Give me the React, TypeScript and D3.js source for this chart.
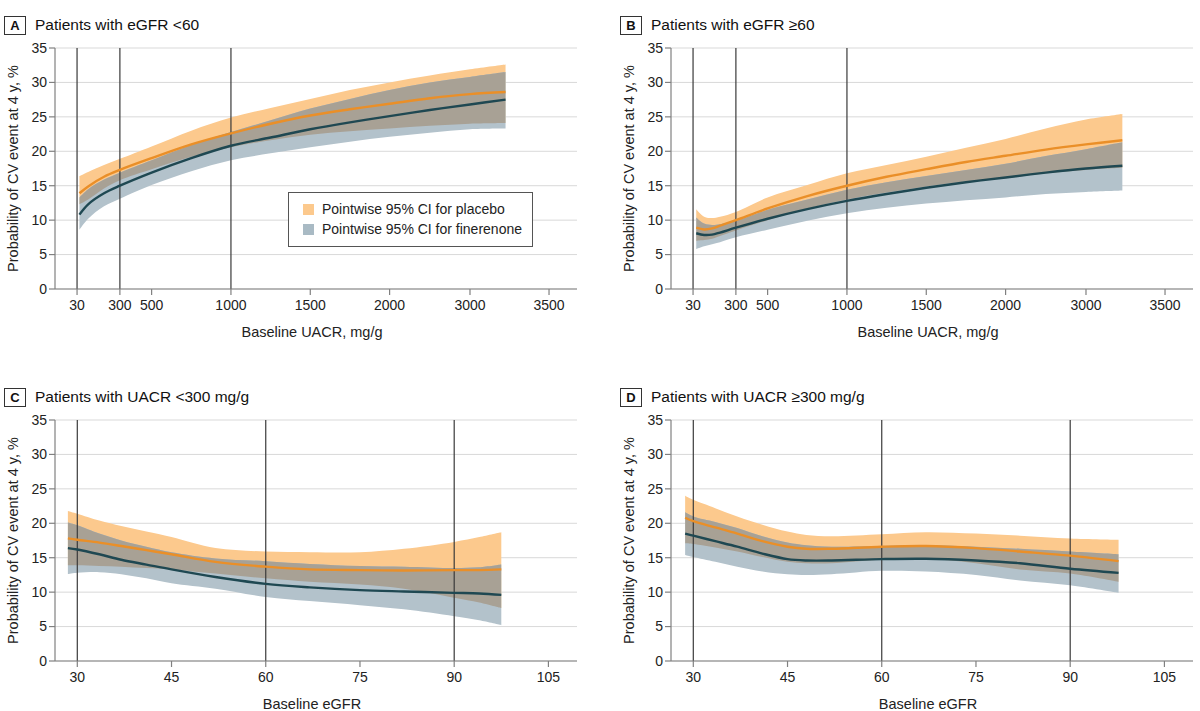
import React from "react";
import * as d3 from "d3";

// ---------- shared ticks ----------
const yTicks = [0, 5, 10, 15, 20, 25, 30, 35];
const uacrTicks = [30, 300, 500, 1000, 1500, 2000, 3000, 3500];
const egfrTicks = [30, 45, 60, 75, 90, 105];
const uacrRefLines = [30, 300, 1000];
const egfrRefLines = [30, 60, 90];

// ---------- Panel A: eGFR <60, by UACR ----------
const aX = [45, 100, 200, 300, 500, 750, 1000, 1250, 1500, 1750, 2000, 2500, 3000, 3225];
const aPlacebo = [13.9, 14.9, 16.3, 17.3, 19.0, 21.0, 22.6, 24.0, 25.2, 26.1, 26.9, 27.7, 28.3, 28.6];
const aPlaceboHi = [16.4, 17.0, 18.0, 18.9, 20.7, 23.0, 24.9, 26.3, 27.6, 28.9, 30.0, 31.0, 31.9, 32.6];
const aPlaceboLo = [12.3, 13.0, 14.6, 15.8, 17.4, 19.2, 20.6, 21.6, 22.4, 22.9, 23.3, 23.7, 24.0, 24.1];
const aFin = [10.8, 12.3, 13.9, 15.0, 16.9, 19.0, 20.8, 22.0, 23.2, 24.2, 25.1, 26.0, 26.8, 27.5];
const aFinHi = [13.3, 14.5, 15.9, 16.9, 18.7, 20.9, 22.8, 24.5, 26.2, 27.6, 28.9, 30.0, 30.8, 31.5];
const aFinLo = [8.6, 10.2, 12.0, 13.1, 15.1, 17.1, 18.7, 19.7, 20.6, 21.4, 22.1, 22.7, 23.2, 23.3];

// ---------- Panel B: eGFR >=60, by UACR ----------
const bX = [50, 100, 150, 200, 300, 500, 750, 1000, 1250, 1500, 1750, 2000, 2500, 3000, 3230];
const bPlacebo = [8.9, 8.65, 8.8, 9.2, 10.0, 11.7, 13.5, 15.0, 16.3, 17.4, 18.45, 19.35, 20.25, 21.0, 21.6];
const bPlaceboHi = [11.6, 10.5, 10.3, 10.5, 11.2, 13.3, 15.1, 16.8, 18.0, 19.2, 20.5, 21.8, 23.3, 24.6, 25.4];
const bPlaceboLo = [7.0, 7.1, 7.3, 7.7, 8.5, 10.0, 11.7, 13.0, 14.0, 14.9, 15.6, 16.1, 16.8, 17.3, 17.6];
const bFin = [8.1, 7.85, 7.9, 8.2, 8.9, 10.2, 11.6, 12.8, 13.8, 14.7, 15.5, 16.2, 16.9, 17.5, 17.9];
const bFinHi = [10.4, 9.5, 9.3, 9.4, 9.9, 11.5, 13.0, 14.4, 15.5, 16.4, 17.3, 18.2, 19.3, 20.3, 21.3];
const bFinLo = [5.8, 6.2, 6.5, 6.8, 7.5, 8.6, 9.9, 11.0, 11.8, 12.4, 12.9, 13.3, 13.8, 14.1, 14.3];

// ---------- Panel C: UACR <300, by eGFR ----------
const cX = [28.5, 30, 33.5, 37, 41, 45, 52, 60, 67, 75, 82, 90, 94, 97.5];
const cPlacebo = [17.8, 17.6, 17.2, 16.7, 16.1, 15.5, 14.4, 13.7, 13.3, 13.2, 13.15, 13.2, 13.2, 13.3];
const cPlaceboHi = [21.8, 21.4, 20.4, 19.6, 18.8, 18.0, 16.4, 15.9, 15.8, 15.8, 16.3, 17.3, 18.0, 18.7];
const cPlaceboLo = [13.9, 13.9, 13.8, 13.7, 13.5, 13.3, 12.7, 12.0, 11.5, 11.1, 10.5, 9.2, 8.5, 7.7];
const cFin = [16.4, 16.2, 15.5, 14.7, 14.0, 13.3, 12.2, 11.2, 10.7, 10.3, 10.1, 9.9, 9.8, 9.6];
const cFinHi = [20.1, 19.7, 18.5, 17.5, 16.6, 15.8, 14.9, 14.5, 14.1, 13.8, 13.7, 13.5, 13.6, 14.0];
const cFinLo = [12.6, 12.8, 12.9, 12.6, 12.0, 11.3, 10.5, 9.3, 8.7, 8.1, 7.5, 6.5, 5.9, 5.2];

// ---------- Panel D: UACR >=300, by eGFR ----------
const dX = [28.7, 30, 33.5, 37, 41, 45, 48, 52, 60, 67, 75, 82, 90, 97.7];
const dPlacebo = [20.8, 20.3, 19.4, 18.5, 17.4, 16.6, 16.3, 16.3, 16.6, 16.7, 16.4, 15.9, 15.3, 14.5];
const dPlaceboHi = [24.0, 23.4, 22.2, 21.0, 19.8, 18.8, 18.3, 18.1, 18.4, 18.7, 18.5, 18.2, 17.8, 17.6];
const dPlaceboLo = [17.1, 17.0, 16.5, 15.9, 15.1, 14.4, 14.2, 14.2, 14.7, 14.8, 14.2, 13.3, 12.7, 11.5];
const dFin = [18.5, 18.2, 17.4, 16.6, 15.6, 14.8, 14.6, 14.6, 14.8, 14.85, 14.6, 14.2, 13.4, 12.8];
const dFinHi = [21.6, 21.0, 20.2, 19.3, 18.1, 17.2, 16.8, 16.6, 16.7, 16.8, 16.6, 16.3, 15.9, 15.5];
const dFinLo = [15.4, 15.1, 14.4, 13.7, 13.0, 12.6, 12.5, 12.6, 13.1, 13.0, 12.5, 11.7, 11.0, 9.9];

const legendLabels = ["Pointwise 95% CI for placebo", "Pointwise 95% CI for finerenone"];

// ---------- style ----------
const FONT = "'Liberation Sans', Arial, sans-serif";
const C_ORANGE_BAND = "#fcc98d";
const C_GREY_BAND = "#b3c2cb";
const C_OVERLAP = "#a8a195";
const C_ORANGE_LINE = "#ea8f28";
const C_DARK_LINE = "#1f4852";
const C_GRID = "#d9d9d9";
const C_AXIS = "#808080";
const C_REF = "#3a3a3a";

const PLOT_W = 522;
const PLOT_H = 241;

type PanelProps = {
  id: string;
  letter: string;
  title: string;
  xLabel: string;
  left: number;
  top: number;
  xScale: d3.ScaleLinear<number, number>;
  xTicks: number[];
  refLines: number[];
  xs: number[];
  placebo: number[];
  placeboHi: number[];
  placeboLo: number[];
  fin: number[];
  finHi: number[];
  finLo: number[];
  legend?: boolean;
};

function Panel(p: PanelProps) {
  const plotLeft = p.left + 55;
  const plotTop = p.top + 40;
  const x = p.xScale.copy().range(p.xScale.range().map((r) => r + plotLeft));
  const y = d3.scaleLinear().domain([0, 35]).range([plotTop + PLOT_H, plotTop]);
  const bottom = y(0);
  const right = plotLeft + PLOT_W;

  const idx = p.xs.map((_, i) => i);
  const curve = d3.curveCatmullRom.alpha(0.5);
  const areaP = d3
    .area<number>()
    .x((i) => x(p.xs[i]))
    .y0((i) => y(p.placeboLo[i]))
    .y1((i) => y(p.placeboHi[i]))
    .curve(curve)(idx) as string;
  const areaF = d3
    .area<number>()
    .x((i) => x(p.xs[i]))
    .y0((i) => y(p.finLo[i]))
    .y1((i) => y(p.finHi[i]))
    .curve(curve)(idx) as string;
  const lineP = d3
    .line<number>()
    .x((i) => x(p.xs[i]))
    .y((i) => y(p.placebo[i]))
    .curve(curve)(idx) as string;
  const lineF = d3
    .line<number>()
    .x((i) => x(p.xs[i]))
    .y((i) => y(p.fin[i]))
    .curve(curve)(idx) as string;

  const titleBase = p.top + 22;

  return (
    <g fontFamily={FONT}>
      <rect x={p.left + 4.5} y={p.top + 8.5} width={21} height={18} fill="#fff" stroke="#333" strokeWidth={1} />
      <text x={p.left + 15} y={titleBase} textAnchor="middle" fontSize={13} fontWeight="bold" fill="#111">
        {p.letter}
      </text>
      <text x={p.left + 35} y={titleBase} fontSize={15.5} fill="#111">
        {p.title}
      </text>

      {yTicks.map((t) => (
        <line key={"g" + t} x1={plotLeft} x2={right} y1={y(t)} y2={y(t)} stroke={C_GRID} strokeWidth={1} />
      ))}

      <defs>
        <clipPath id={"clip-" + p.id}>
          <path d={areaP} />
        </clipPath>
      </defs>
      <path d={areaP} fill={C_ORANGE_BAND} />
      <path d={areaF} fill={C_GREY_BAND} />
      <path d={areaF} fill={C_OVERLAP} clipPath={`url(#clip-${p.id})`} />

      {p.refLines.map((v) => (
        <line key={"r" + v} x1={x(v)} x2={x(v)} y1={y(35)} y2={bottom} stroke={C_REF} strokeWidth={1.2} />
      ))}

      <path d={lineP} fill="none" stroke={C_ORANGE_LINE} strokeWidth={2.4} />
      <path d={lineF} fill="none" stroke={C_DARK_LINE} strokeWidth={2.4} />

      <line x1={plotLeft} x2={plotLeft} y1={y(35)} y2={bottom} stroke={C_AXIS} strokeWidth={1.2} />
      <line x1={plotLeft} x2={right} y1={bottom} y2={bottom} stroke={C_AXIS} strokeWidth={1.2} />
      {yTicks.map((t) => (
        <g key={"yt" + t}>
          <line x1={plotLeft - 6} x2={plotLeft} y1={y(t)} y2={y(t)} stroke={C_AXIS} strokeWidth={1.2} />
          <text x={plotLeft - 8} y={y(t)} dy="0.35em" textAnchor="end" fontSize={14} fill="#222">
            {t}
          </text>
        </g>
      ))}
      {p.xTicks.map((t) => (
        <g key={"xt" + t}>
          <line x1={x(t)} x2={x(t)} y1={bottom} y2={bottom + 6} stroke={C_AXIS} strokeWidth={1.2} />
          <text x={x(t)} y={bottom + 21} textAnchor="middle" fontSize={14} fill="#222">
            {t}
          </text>
        </g>
      ))}
      <text x={plotLeft + PLOT_W / 2 - 4} y={bottom + 48} textAnchor="middle" fontSize={14.5} fill="#222">
        {p.xLabel}
      </text>
      <text
        transform={`translate(${p.left + 18},${(y(35) + bottom) / 2}) rotate(-90)`}
        textAnchor="middle"
        fontSize={14.5}
        fill="#222"
      >
        Probability of CV event at 4 y, %
      </text>

      {p.legend && (
        <g>
          <rect x={p.left + 288.5} y={plotTop + 144.5} width={244} height={54} fill="#fff" stroke="#555" strokeWidth={1} />
          {legendLabels.map((lab, i) => (
            <g key={lab}>
              <rect
                x={p.left + 303}
                y={plotTop + 156 + i * 20}
                width={11}
                height={11}
                fill={i === 0 ? C_ORANGE_BAND : "#a9bac4"}
              />
              <text x={p.left + 322} y={plotTop + 161.5 + i * 20} dy="0.35em" fontSize={14} fill="#222">
                {lab}
              </text>
            </g>
          ))}
        </g>
      )}
    </g>
  );
}

export default function App() {
  // UACR axis: linear up to 2000, compressed segment beyond (as in the source figure)
  const uacrScale = d3
    .scaleLinear()
    .domain([-109, 2000, 3000, 3677])
    .range([0, 0.641 * PLOT_W, 0.795 * PLOT_W, PLOT_W]);
  const egfrScale = d3.scaleLinear().domain([26.45, 109.55]).range([0, PLOT_W]);

  return (
    <svg width={1200} height={711} style={{ position: "absolute", left: 0, top: 0, background: "#fff" }}>
      <rect width={1200} height={711} fill="#fff" />
      <Panel
        id="A"
        letter="A"
        title="Patients with eGFR <60"
        xLabel="Baseline UACR, mg/g"
        left={0}
        top={8}
        xScale={uacrScale}
        xTicks={uacrTicks}
        refLines={uacrRefLines}
        xs={aX}
        placebo={aPlacebo}
        placeboHi={aPlaceboHi}
        placeboLo={aPlaceboLo}
        fin={aFin}
        finHi={aFinHi}
        finLo={aFinLo}
        legend
      />
      <Panel
        id="B"
        letter="B"
        title="Patients with eGFR ≥60"
        xLabel="Baseline UACR, mg/g"
        left={616}
        top={8}
        xScale={uacrScale}
        xTicks={uacrTicks}
        refLines={uacrRefLines}
        xs={bX}
        placebo={bPlacebo}
        placeboHi={bPlaceboHi}
        placeboLo={bPlaceboLo}
        fin={bFin}
        finHi={bFinHi}
        finLo={bFinLo}
      />
      <Panel
        id="C"
        letter="C"
        title="Patients with UACR <300 mg/g"
        xLabel="Baseline eGFR"
        left={0}
        top={380}
        xScale={egfrScale}
        xTicks={egfrTicks}
        refLines={egfrRefLines}
        xs={cX}
        placebo={cPlacebo}
        placeboHi={cPlaceboHi}
        placeboLo={cPlaceboLo}
        fin={cFin}
        finHi={cFinHi}
        finLo={cFinLo}
      />
      <Panel
        id="D"
        letter="D"
        title="Patients with UACR ≥300 mg/g"
        xLabel="Baseline eGFR"
        left={616}
        top={380}
        xScale={egfrScale}
        xTicks={egfrTicks}
        refLines={egfrRefLines}
        xs={dX}
        placebo={dPlacebo}
        placeboHi={dPlaceboHi}
        placeboLo={dPlaceboLo}
        fin={dFin}
        finHi={dFinHi}
        finLo={dFinLo}
      />
    </svg>
  );
}
